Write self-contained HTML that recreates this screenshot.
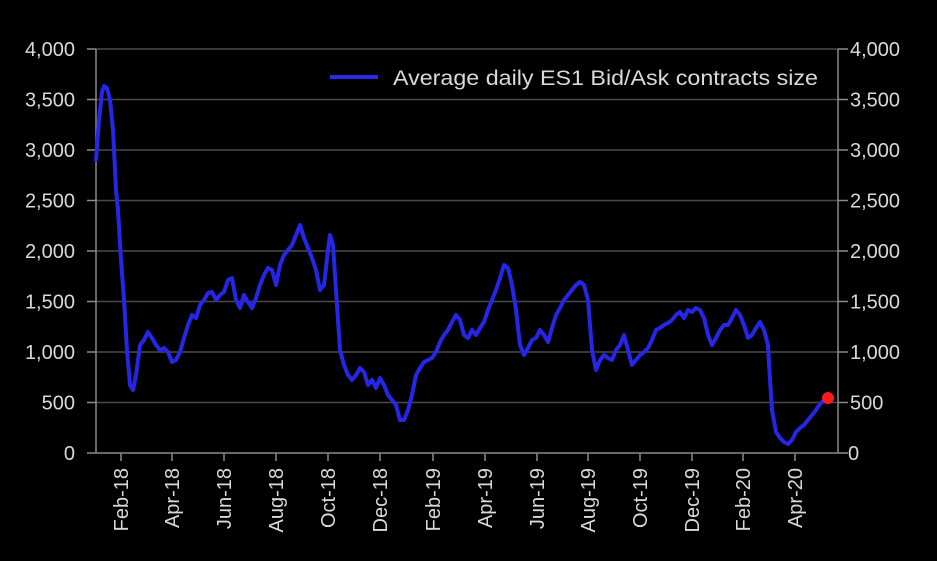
<!DOCTYPE html>
<html><head><meta charset="utf-8"><style>
html,body{margin:0;padding:0;background:#000;}
svg{display:block;}
text{font-family:"Liberation Sans",sans-serif;fill:#d9d9d9;font-size:20px;}
</style></head><body>
<svg width="937" height="561" viewBox="0 0 937 561" xmlns="http://www.w3.org/2000/svg">
<rect width="937" height="561" fill="#000"/>
<g stroke="#4a4a4a" stroke-width="1.5">
<line x1="96" y1="49" x2="838" y2="49"/>
<line x1="96" y1="99.5" x2="838" y2="99.5"/>
<line x1="96" y1="150" x2="838" y2="150"/>
<line x1="96" y1="200.5" x2="838" y2="200.5"/>
<line x1="96" y1="251" x2="838" y2="251"/>
<line x1="96" y1="301.5" x2="838" y2="301.5"/>
<line x1="96" y1="352" x2="838" y2="352"/>
<line x1="96" y1="402.5" x2="838" y2="402.5"/>
</g>
<g stroke="#8a8a8a" stroke-width="1.5" fill="none">
<line x1="96" y1="49" x2="96" y2="453"/>
<line x1="838" y1="49" x2="838" y2="453"/>
<line x1="87" y1="453" x2="848" y2="453"/>
<path d="M87 49H96M87 99.5H96M87 150H96M87 200.5H96M87 251H96M87 301.5H96M87 352H96M87 402.5H96M838 49H848M838 99.5H848M838 150H848M838 200.5H848M838 251H848M838 301.5H848M838 352H848M838 402.5H848"/>
<path d="M121 453V461M172 453V461M224 453V461M276 453V461M328 453V461M380 453V461M433 453V461M485 453V461M537 453V461M588 453V461M640 453V461M692 453V461M743 453V461M795 453V461"/>
</g>
<g text-anchor="end">
<text x="75" y="56">4,000</text><text x="75" y="106.5">3,500</text><text x="75" y="157">3,000</text><text x="75" y="207.5">2,500</text><text x="75" y="258">2,000</text><text x="75" y="308.5">1,500</text><text x="75" y="359">1,000</text><text x="75" y="409.5">500</text><text x="75" y="460">0</text>
</g>
<g text-anchor="start">
<text x="850" y="56">4,000</text><text x="850" y="106.5">3,500</text><text x="850" y="157">3,000</text><text x="850" y="207.5">2,500</text><text x="850" y="258">2,000</text><text x="850" y="308.5">1,500</text><text x="850" y="359">1,000</text><text x="850" y="409.5">500</text><text x="848" y="460">0</text>
</g>
<g text-anchor="end" style="font-size:21px">
<text transform="translate(128,468) rotate(-90)">Feb-18</text>
<text transform="translate(179,468) rotate(-90)">Apr-18</text>
<text transform="translate(231,468) rotate(-90)">Jun-18</text>
<text transform="translate(283,468) rotate(-90)">Aug-18</text>
<text transform="translate(335,468) rotate(-90)">Oct-18</text>
<text transform="translate(387,468) rotate(-90)">Dec-18</text>
<text transform="translate(440,468) rotate(-90)">Feb-19</text>
<text transform="translate(492,468) rotate(-90)">Apr-19</text>
<text transform="translate(544,468) rotate(-90)">Jun-19</text>
<text transform="translate(595,468) rotate(-90)">Aug-19</text>
<text transform="translate(647,468) rotate(-90)">Oct-19</text>
<text transform="translate(699,468) rotate(-90)">Dec-19</text>
<text transform="translate(750,468) rotate(-90)">Feb-20</text>
<text transform="translate(802,468) rotate(-90)">Apr-20</text>
</g>
<line x1="330" y1="77" x2="378" y2="77" stroke="#2a2ae8" stroke-width="4"/>
<text x="393" y="85" style="font-size:21px" textLength="425" lengthAdjust="spacingAndGlyphs">Average daily ES1 Bid/Ask contracts size</text>
<polyline fill="none" stroke="#2626e6" stroke-width="4" stroke-linejoin="round" stroke-linecap="round" points="96,160 99,120 102,92 104,86 107,88 110,100 113,130 116,190 118,210 121,260 124,300 127,350 130,385 133,390 136,375 140,345 144,340 148,332 152,338 156,345 160,350 164,348 168,352 172,362 176,360 180,352 184,338 188,325 192,315 196,318 200,305 204,300 208,293 212,292 216,300 220,295 224,292 228,280 232,278 236,300 240,308 244,295 248,302 252,308 256,298 260,285 264,275 268,268 272,270 276,285 280,265 284,255 288,250 292,245 296,235 300,225 304,238 308,248 312,258 316,270 320,290 324,285 328,250 330,235 333,245 336,290 340,350 344,365 348,375 352,380 356,375 360,368 364,372 368,385 372,380 376,388 380,378 384,385 388,395 392,400 396,405 400,420 404,420 408,410 412,395 416,375 420,368 424,362 428,360 432,358 436,352 440,342 444,335 448,330 452,322 456,315 460,320 464,335 468,338 472,330 476,335 480,328 484,322 488,310 492,300 496,290 500,278 504,265 508,268 512,285 516,310 520,345 524,355 528,348 532,340 536,338 540,330 544,335 548,342 552,328 556,315 560,308 564,300 568,295 572,290 576,285 580,282 584,285 588,300 592,350 596,370 600,360 604,355 608,358 612,360 616,350 620,345 624,335 628,350 632,365 636,360 640,355 644,352 648,348 652,340 656,330 660,328 664,325 668,323 672,320 676,315 680,312 684,318 688,310 692,312 696,308 700,310 704,318 708,335 712,345 716,338 720,330 724,325 728,325 732,318 736,310 740,315 744,325 748,338 752,335 756,328 760,322 764,330 768,345 770,380 772,410 776,432 780,438 784,442 788,444 792,440 796,432 800,428 804,425 808,420 812,415 816,410 820,404 824,400 828,398"/>
<circle cx="828" cy="398" r="6" fill="#ff1a1a"/>
</svg>
</body></html>
